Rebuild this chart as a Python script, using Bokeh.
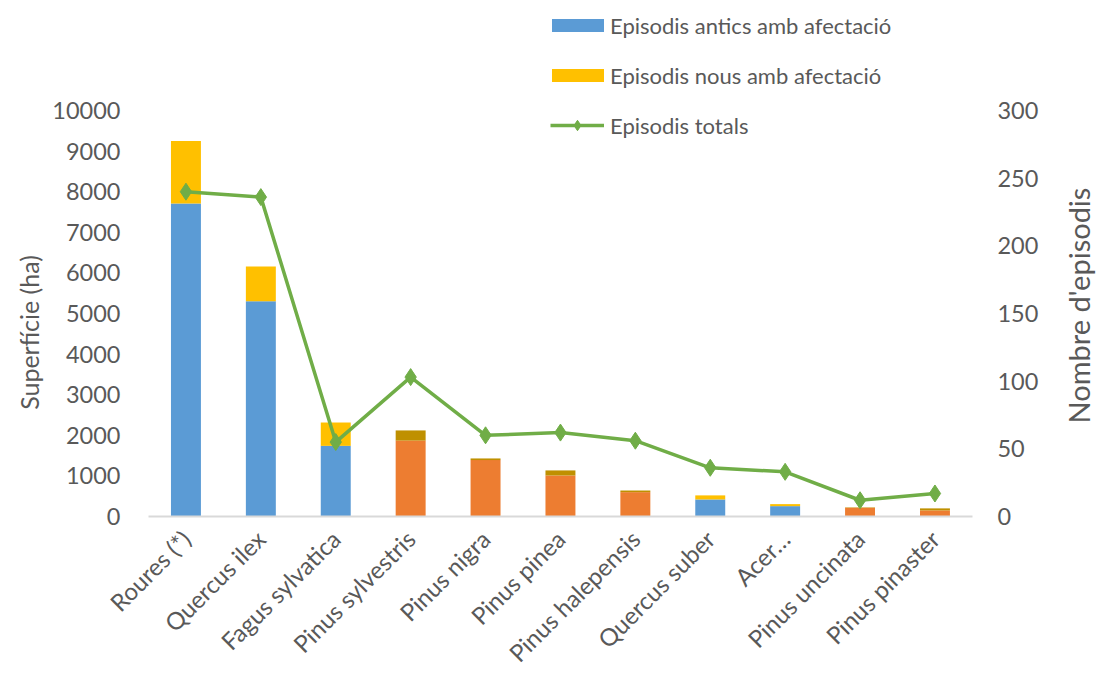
import math
from bokeh.plotting import figure
from bokeh.models import (ColumnDataSource, Range1d, LinearAxis, FixedTicker,
                          Legend, LegendItem, Label)
from bokeh.embed import file_html
from bokeh.resources import INLINE

categories = ["Roures (*)", "Quercus ilex", "Fagus sylvatica", "Pinus sylvestris", "Pinus nigra",
              "Pinus pinea", "Pinus halepensis", "Quercus suber", "Acer…", "Pinus uncinata",
              "Pinus pinaster"]
old_area = [7710, 5300, 1740, 1870, 1390, 1010, 600, 420, 255, 215, 150]
new_area = [1540, 860, 575, 250, 40, 125, 40, 100, 50, 10, 50]
conifer = [False, False, False, True, True, True, True, False, False, True, True]
total_episodes = [240, 236, 55, 103, 60, 62, 56, 36, 33, 12, 17]

left_ticks = [0, 1000, 2000, 3000, 4000, 5000, 6000, 7000, 8000, 9000, 10000]
right_ticks = [0, 50, 100, 150, 200, 250, 300]

FONT = "Lato"
TXT = "#595959"

# layout (pixels): the plot frame covers the whole canvas, axes are pinned inside it
W, H = 1098, 674
LEFT = 148             # x of the category area's left edge
BASE = 516             # baseline y (from top)
AXIS_H = 406           # baseline -> top tick
SLOT = 74.9            # px per category

n = len(categories)
pos = list(range(n))
x_start = -0.5 - LEFT / SLOT
x_end = x_start + W / SLOT
lpp = left_ticks[-1] / AXIS_H
rpp = right_ticks[-1] / AXIS_H
left_range = Range1d(-(H - BASE) * lpp, BASE * lpp)
right_range = Range1d(-(H - BASE) * rpp, BASE * rpp)

old_colors = ["#ED7D31" if c else "#5B9BD5" for c in conifer]
new_colors = ["#BF9000" if c else "#FFC000" for c in conifer]
stack_top = [o + n_ for o, n_ in zip(old_area, new_area)]

src = ColumnDataSource(dict(x=pos, old=old_area, top=stack_top, zero=[0] * n,
                            oc=old_colors, nc=new_colors, tot=total_episodes))

p = figure(frame_width=W, frame_height=H, x_range=Range1d(x_start, x_end), y_range=left_range,
           output_backend="svg", toolbar_location=None,
           min_border_left=0, min_border_right=0, min_border_top=0, min_border_bottom=0)
p.extra_y_ranges = {"right": right_range}
p.outline_line_color = None
p.xgrid.visible = False
p.ygrid.visible = False
p.background_fill_color = "white"
p.border_fill_color = "white"

r_old = p.vbar(x="x", bottom="zero", top="old", width=0.4, fill_color="oc", line_color=None, source=src)
r_new = p.vbar(x="x", bottom="old", top="top", width=0.4, fill_color="nc", line_color=None, source=src)
r_line = p.line(x="x", y="tot", line_color="#70AD47", line_width=3.5, y_range_name="right", source=src)
r_pts = p.scatter(x="x", y="tot", marker="diamond", size=17, fill_color="#70AD47", line_color="#70AD47",
                  y_range_name="right", source=src)

# left axis, pinned at the left edge of the category area
ya = p.yaxis[0]
ya.fixed_location = -0.5
ya.ticker = FixedTicker(ticks=left_ticks)
ya.axis_line_color = None
ya.major_tick_line_color = None
ya.minor_tick_line_color = None
ya.major_label_text_font = FONT
ya.major_label_text_font_size = "23.5px"
ya.major_label_text_color = TXT
ya.major_label_standoff = 22

left_title = Label(x=-0.5 - 120 / SLOT, y=(BASE - 332) * lpp, text="Superfície (ha)", angle=math.pi / 2,
                   text_align="center", text_baseline="middle", text_font=FONT,
                   text_font_size="25px", text_color=TXT)
p.add_layout(left_title)

# right axis, pinned at the right edge of the category area
ra = LinearAxis(y_range_name="right", ticker=FixedTicker(ticks=right_ticks), fixed_location=n - 0.5)
ra.axis_line_color = None
ra.major_tick_line_color = None
ra.minor_tick_line_color = None
ra.major_label_text_font = FONT
ra.major_label_text_font_size = "23.5px"
ra.major_label_text_color = TXT
ra.major_label_standoff = 19
p.add_layout(ra, "right")

right_title = Label(x=n - 0.5 + 106 / SLOT, y=(BASE - 305) * rpp,
                    y_range_name="right", text="Nombre d'episodis", angle=math.pi / 2,
                    text_align="center", text_baseline="middle", text_font=FONT,
                    text_font_size="29px", text_color=TXT)
p.add_layout(right_title)

# bottom axis, pinned at the baseline
xa = p.xaxis[0]
xa.fixed_location = 0
xa.ticker = FixedTicker(ticks=pos)
xa.major_label_overrides = {i: c for i, c in zip(pos, categories)}
xa.bounds = (-0.5, n - 0.5)
xa.axis_line_color = "#D9D9D9"
xa.axis_line_width = 2
xa.major_tick_line_color = None
xa.minor_tick_line_color = None
xa.major_label_orientation = math.pi / 4
xa.major_label_text_font = FONT
xa.major_label_text_font_size = "24px"
xa.major_label_text_color = TXT
xa.major_label_standoff = 12


def style(lg):
    lg.label_text_font = FONT
    lg.label_text_font_size = "22px"
    lg.label_text_color = TXT
    lg.label_height = 28
    lg.spacing = 22
    lg.padding = 0
    lg.margin = 0
    lg.border_line_color = None
    lg.background_fill_alpha = 0


legend_bars = Legend(items=[
    LegendItem(label="Episodis antics amb afectació", renderers=[r_old], index=0),
    LegendItem(label="Episodis nous amb afectació", renderers=[r_new], index=0),
], location=(LEFT + 397, H - 89), orientation="vertical")
style(legend_bars)
legend_bars.glyph_width = 65
legend_bars.glyph_height = 16
legend_bars.label_standoff = 0
p.add_layout(legend_bars, "center")

legend_line = Legend(items=[
    LegendItem(label="Episodis totals", renderers=[r_line, r_pts]),
], location=(LEFT + 402, H - 139), orientation="vertical")
style(legend_line)
legend_line.glyph_width = 54
legend_line.glyph_height = 26
legend_line.label_standoff = 6
p.add_layout(legend_line, "center")

open("out.html", "w").write(file_html(p, INLINE))
